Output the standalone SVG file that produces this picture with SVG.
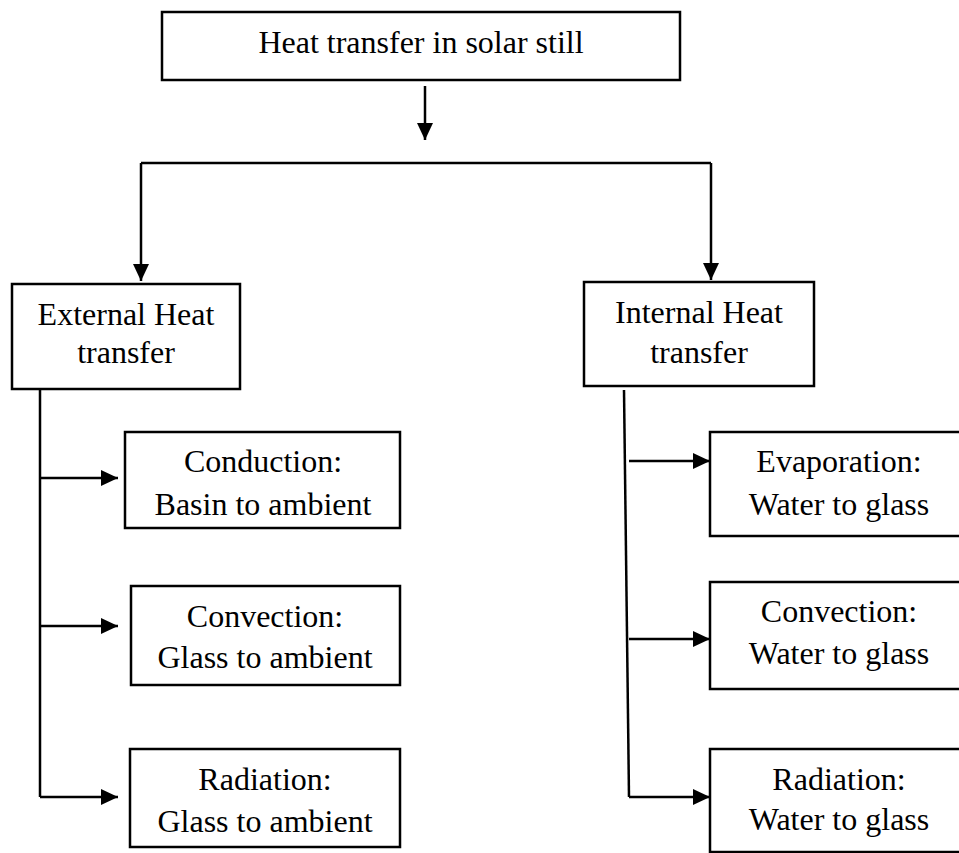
<svg xmlns="http://www.w3.org/2000/svg" width="959" height="853" viewBox="0 0 959 853">
<style>
rect.box{fill:#fff;stroke:#000;stroke-width:2.5}
text{font-family:"Liberation Serif","Times New Roman","DejaVu Serif",serif;font-size:32px;fill:#000;text-anchor:middle}
.conn path{fill:none;stroke:#000;stroke-width:2.5}
.arr{marker-end:url(#ah)}
</style>
<defs>
<marker id="ah" viewBox="0 0 17 16" refX="17" refY="8" markerWidth="17" markerHeight="16" markerUnits="userSpaceOnUse" orient="auto">
<path d="M0,0 L17,8 L0,16 z" fill="#000"/>
</marker>
</defs>
<rect width="959" height="853" fill="#fff"/>
<g class="conn">
<path class="arr" d="M425,86 V140"/>
<path d="M141,163 H711"/>
<path class="arr" d="M141,163 V281"/>
<path class="arr" d="M711,163 V280"/>
<path d="M40,389 V797"/>
<path class="arr" d="M40,478 H118"/>
<path class="arr" d="M40,626 H118"/>
<path class="arr" d="M40,797 H118"/>
<path d="M624,390 L629,797"/>
<path class="arr" d="M629,461 H710"/>
<path class="arr" d="M629,639 H710"/>
<path class="arr" d="M629,797 H710"/>
</g>
<g id="root"><rect class="box" x="162" y="12" width="518" height="68"/><text x="421" y="53">Heat transfer in solar still</text></g>
<g id="external"><rect class="box" x="12" y="284" width="228" height="105"/><text x="126" y="325">External Heat</text><text x="126" y="363">transfer</text></g>
<g id="internal"><rect class="box" x="584" y="282" width="230" height="104"/><text x="699" y="323">Internal Heat</text><text x="699" y="363">transfer</text></g>
<g id="ext-conduction"><rect class="box" x="125" y="432" width="275" height="96"/><text x="263" y="472">Conduction:</text><text x="263" y="515">Basin to ambient</text></g>
<g id="ext-convection"><rect class="box" x="131" y="586" width="269" height="99"/><text x="265" y="627">Convection:</text><text x="265" y="668">Glass to ambient</text></g>
<g id="ext-radiation"><rect class="box" x="130" y="749" width="270" height="98"/><text x="265" y="790">Radiation:</text><text x="265" y="832">Glass to ambient</text></g>
<g id="int-evaporation"><rect class="box" x="710" y="432" width="258" height="104"/><text x="839" y="472">Evaporation:</text><text x="839" y="515">Water to glass</text></g>
<g id="int-convection"><rect class="box" x="710" y="582" width="258" height="107"/><text x="839" y="622">Convection:</text><text x="839" y="664">Water to glass</text></g>
<g id="int-radiation"><rect class="box" x="710" y="749" width="258" height="103"/><text x="839" y="790">Radiation:</text><text x="839" y="830">Water to glass</text></g>
</svg>
